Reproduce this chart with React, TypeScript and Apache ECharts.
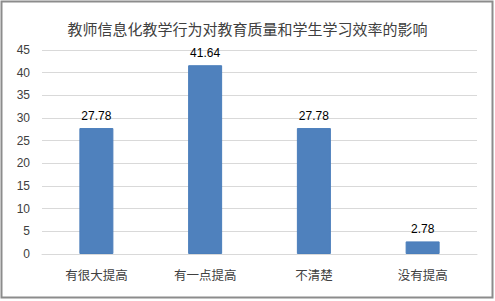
import React, { useEffect, useRef } from "react";
import * as echarts from "echarts";

const title = "教师信息化教学行为对教育质量和学生学习效率的影响";
const categories = ["有很大提高", "有一点提高", "不清楚", "没有提高"];
const values = [27.78, 41.64, 27.78, 2.78];
const yTicks = { min: 0, max: 45, interval: 5 };

export default function App() {
  const ref = useRef<HTMLDivElement>(null);
  useEffect(() => {
    if (!ref.current) return;
    const chart = echarts.init(ref.current, null, { renderer: "svg" });
    chart.setOption({
      animation: false,
      backgroundColor: "#ffffff",
      title: {
        text: title,
        left: "center",
        top: 16,
        textStyle: {
          fontFamily: "Noto Sans CJK SC",
          fontSize: 15,
          fontWeight: "normal",
          color: "#404040",
        },
      },
      graphic: [
        {
          type: "rect",
          shape: { x: 1.5, y: 1.5, width: 491, height: 296 },
          style: { fill: "none", stroke: "#8c8c8c", lineWidth: 2 },
          silent: true,
        },
      ],
      grid: { left: 42, right: 18, top: 50, bottom: 47 },
      xAxis: {
        type: "category",
        data: categories,
        axisLine: { lineStyle: { color: "#d9d9d9" } },
        axisTick: { show: false },
        axisLabel: {
          margin: 14,
          fontSize: 12.5,
          color: "#404040",
          fontFamily: "Noto Sans CJK SC",
        },
      },
      yAxis: {
        type: "value",
        min: yTicks.min,
        max: yTicks.max,
        interval: yTicks.interval,
        axisLine: { show: false },
        axisTick: { show: false },
        splitLine: { lineStyle: { color: "#d9d9d9" } },
        axisLabel: {
          margin: 12,
          fontSize: 12,
          color: "#404040",
          fontFamily: "Liberation Sans",
        },
      },
      series: [
        {
          type: "bar",
          data: values,
          barWidth: 34,
          itemStyle: { color: "#4f81bd", borderColor: "#4a7ebb", borderWidth: 1 },
          label: {
            show: true,
            position: "top",
            distance: 6,
            fontSize: 12,
            color: "#000000",
            fontFamily: "Liberation Sans",
            formatter: (p: any) => p.value.toFixed(2),
          },
        },
      ],
    });
    return () => chart.dispose();
  }, []);
  return (
    <div
      ref={ref}
      style={{ position: "absolute", left: 0, top: 0, width: 495, height: 301 }}
    />
  );
}
